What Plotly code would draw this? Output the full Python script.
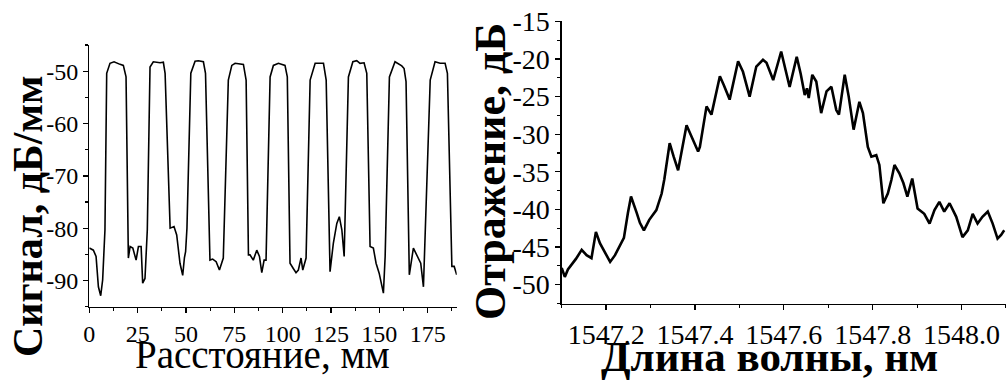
import numpy as np
import plotly.graph_objects as go

# ---------------- data: left panel (distance, mm / signal, dB/mm) ----------------
distance_mm = [0, 2.1, 3.5, 4.7, 5.9, 6.9, 8.1, 9.0, 10.7, 12.8, 15.9, 17.6, 19.0,
               20.2, 21.1, 22.5, 24.2, 25.4, 26.8, 27.6, 28.8, 30.0,
               31.4, 33.1, 36.6, 38.3, 39.2,
               41.8, 43.8, 45.2, 46.9, 48.3, 49.2, 49.8, 50.5,
               52.5, 54.7, 56.4, 59.0, 60.1,
               62.4, 63.8, 65.6, 67.3, 69.3,
               71.9, 73.7, 75.4, 79.7, 81.1,
               82.3, 83.1, 84.8, 86.6, 88.0, 89.2, 90.4, 91.4,
               93.5, 95.2, 97.8, 101.2, 102.4,
               103.8, 105.5, 106.9, 108.1, 109.5, 110.4, 112.1,
               114.2, 116.8, 121.1, 122.5,
               124.5, 126.2, 128.0, 129.3, 130.6, 131.8,
               134.0, 136.3, 138.3, 140.0, 142.1, 143.5,
               145.2, 146.9, 148.3, 149.9, 152.1, 153.0,
               155.2, 158.1, 161.6, 162.8, 163.8,
               165.5, 167.6, 169.7, 171.4, 172.8,
               176.3, 178.8, 181.4, 184.0, 185.2,
               187.5, 188.7, 190.0]
signal_db = [-83.8, -84.2, -85.4, -91.2, -92.9, -89.9, -80.3, -50.4, -48.5, -48.2, -48.7, -48.9, -51.1,
             -85.7, -83.5, -83.8, -86.1, -83.5, -83.5, -90.5, -89.6, -80.3,
             -49.2, -48.2, -48.4, -48.3, -50.4,
             -80.0, -79.7, -81.3, -86.7, -89.0, -85.6, -84.5, -80.0,
             -50.4, -48.1, -48.0, -48.2, -50.4,
             -86.1, -85.9, -86.4, -88.0, -85.7,
             -51.7, -48.9, -48.5, -48.7, -51.7,
             -85.1, -85.1, -86.1, -84.2, -85.4, -88.5, -86.1, -86.1,
             -51.1, -48.9, -48.5, -48.9, -51.1,
             -86.7, -87.7, -88.5, -88.0, -85.7, -88.0, -85.7,
             -51.7, -48.5, -48.5, -51.7,
             -88.3, -82.9, -79.1, -77.8, -80.3, -85.4,
             -51.1, -48.2, -48.0, -48.5, -48.4, -50.4,
             -83.5, -83.8, -86.7, -88.6, -92.4, -85.4,
             -51.1, -48.2, -49.0, -49.5, -52.0,
             -88.9, -83.8, -85.4, -86.7, -91.2,
             -51.7, -48.2, -48.5, -48.5, -50.4,
             -87.3, -87.3, -88.9]

# ---------------- data: right panel (wavelength, nm / reflection, dB) ----------------
wavelength_nm = [1547.100, 1547.107, 1547.114, 1547.122, 1547.132, 1547.145, 1547.156, 1547.167,
                 1547.177, 1547.186, 1547.197, 1547.209, 1547.220, 1547.231, 1547.240, 1547.249,
                 1547.256, 1547.269, 1547.276, 1547.285, 1547.297, 1547.313, 1547.325, 1547.331,
                 1547.343, 1547.352, 1547.362, 1547.381, 1547.393, 1547.407, 1547.411,
                 1547.426, 1547.437, 1547.456, 1547.465, 1547.478, 1547.497, 1547.508, 1547.523,
                 1547.538, 1547.553, 1547.561, 1547.576, 1547.594, 1547.604, 1547.613, 1547.629,
                 1547.638, 1547.647, 1547.652, 1547.656, 1547.664, 1547.673, 1547.684, 1547.696,
                 1547.707, 1547.718, 1547.724, 1547.737, 1547.746, 1547.757, 1547.770, 1547.778,
                 1547.789, 1547.797, 1547.808, 1547.815, 1547.824, 1547.834, 1547.842, 1547.849,
                 1547.860, 1547.869, 1547.878, 1547.889, 1547.901, 1547.916, 1547.928, 1547.939,
                 1547.950, 1547.961, 1547.973, 1547.988, 1548.002, 1548.014, 1548.025, 1548.036,
                 1548.047, 1548.059, 1548.070, 1548.081, 1548.089, 1548.096]
reflection_db = [-47.8, -49.0, -48.0, -47.4, -46.6, -45.4, -46.1, -46.5,
                 -43.0, -44.5, -45.7, -47.0, -46.1, -44.8, -43.8, -40.5,
                 -38.3, -40.5, -41.8, -42.8, -41.4, -40.1, -37.9, -36.0,
                 -31.2, -33.0, -34.8, -28.8, -30.5, -32.3, -31.7,
                 -26.3, -27.4, -22.3, -23.5, -25.4, -20.3, -21.7, -25.0,
                 -21.0, -20.1, -20.5, -22.8, -19.0, -21.5, -23.7, -19.7,
                 -22.0, -24.8, -23.9, -25.2, -22.1, -23.0, -27.2, -24.3,
                 -23.7, -26.8, -27.4, -22.1, -25.0, -29.4, -25.7, -27.2,
                 -31.7, -33.0, -32.8, -34.1, -39.2, -37.9, -36.1, -34.1,
                 -35.2, -36.5, -38.3, -35.9, -39.9, -40.6, -41.9, -40.1,
                 -39.0, -40.3, -39.2, -41.0, -43.7, -42.8, -40.6, -41.9,
                 -41.0, -40.3, -41.9, -43.9, -43.4, -42.8]

# ---------------- tick labels ----------------
left_x_ticks = [0, 25, 50, 75, 100, 125, 150, 175]
left_x_labels = ["0", "25", "50", "75", "100", "125", "150", "175"]
left_y_ticks = [-90, -80, -70, -60, -50]
left_y_labels = ["-90", "-80", "-70", "-60", "-50"]
right_x_ticks = [1547.2, 1547.4, 1547.6, 1547.8, 1548.0]
right_x_labels = ["1547.2", "1547.4", "1547.6", "1547.8", "1548.0"]
right_y_ticks = [-50, -45, -40, -35, -30, -25, -20, -15]
right_y_labels = ["-50", "-45", "-40", "-35", "-30", "-25", "-20", "-15"]

W, H = 1006, 385
FONT = "Liberation Serif, Times New Roman, serif"


def px_x(p):
    return p / W


def px_y(p):
    return (H - p) / H


fig = go.Figure()
fig.add_trace(go.Scatter(x=distance_mm, y=signal_db, mode="lines",
                         line=dict(color="black", width=1.6), xaxis="x", yaxis="y",
                         showlegend=False, hoverinfo="skip"))
fig.add_trace(go.Scatter(x=wavelength_nm, y=reflection_db, mode="lines",
                         line=dict(color="black", width=2.6), xaxis="x2", yaxis="y2",
                         showlegend=False, hoverinfo="skip"))

axis_common = dict(showgrid=False, zeroline=False, showline=True, linecolor="black",
                   linewidth=1.3, ticks="outside", ticklen=5, tickwidth=1.3,
                   tickcolor="black", tickmode="array", automargin=False)

fig.update_layout(
    width=W, height=H,
    margin=dict(l=0, r=0, t=0, b=0, autoexpand=False),
    paper_bgcolor="white", plot_bgcolor="white",
    showlegend=False,
    font=dict(family=FONT, color="black"),
    xaxis=dict(domain=[px_x(89.3), px_x(456.7)], range=[0, 190], anchor="y",
               tickvals=left_x_ticks, ticktext=left_x_labels,
               tickfont=dict(family=FONT, size=24, color="black"),
               minor=dict(tickvals=list(np.arange(12.5, 190, 25)), ticks="outside",
                          ticklen=3, tickwidth=1.2, tickcolor="black"),
               **axis_common),
    yaxis=dict(domain=[px_y(306.7), px_y(45)], range=[-95, -45], anchor="x",
               tickvals=left_y_ticks, ticktext=left_y_labels,
               tickfont=dict(family=FONT, size=24, color="black"),
               minor=dict(tickvals=list(np.arange(-95, -44, 5)), ticks="outside",
                          ticklen=3, tickwidth=1.2, tickcolor="black"),
               **axis_common),
    xaxis2=dict(domain=[px_x(561.7), 1.0], range=[1547.1, 1548.1], anchor="y2",
                tickvals=right_x_ticks, ticktext=right_x_labels,
                tickfont=dict(family=FONT, size=28, color="black"),
                minor=dict(tickvals=[1547.1, 1547.3, 1547.5, 1547.7, 1547.9, 1548.1],
                           ticks="outside", ticklen=3, tickwidth=1.2, tickcolor="black"),
                **axis_common),
    yaxis2=dict(domain=[px_y(304), px_y(20.7)], range=[-52.6, -14.9], anchor="x2",
                tickvals=right_y_ticks, ticktext=right_y_labels,
                tickfont=dict(family=FONT, size=28, color="black"),
                minor=dict(tickvals=list(np.arange(-52.5, -14, 2.5)), ticks="outside",
                           ticklen=3, tickwidth=1.2, tickcolor="black"),
                **axis_common),
)

annotations = [
    dict(text="Расстояние, мм", x=px_x(262), y=px_y(354),
         font=dict(family=FONT, size=39, color="black")),
    dict(text="Сигнал, дБ/мм", x=px_x(28), y=px_y(216), textangle=-90,
         font=dict(family=FONT, size=42, color="black", weight="bold")),
    dict(text="Длина волны, нм", x=px_x(769), y=px_y(356),
         font=dict(family=FONT, size=43, color="black", weight="bold")),
    dict(text="Отражение, дБ", x=px_x(490), y=px_y(172), textangle=-90,
         font=dict(family=FONT, size=44, color="black", weight="bold")),
]
for a in annotations:
    a.update(xref="paper", yref="paper", xanchor="center", yanchor="middle",
             showarrow=False)
fig.update_layout(annotations=annotations)

fig.write_html("out.html",
               config={"displayModeBar": False, "staticPlot": True},
               post_script="document.body.style.margin='0';"
                           "document.body.style.overflow='hidden';")
